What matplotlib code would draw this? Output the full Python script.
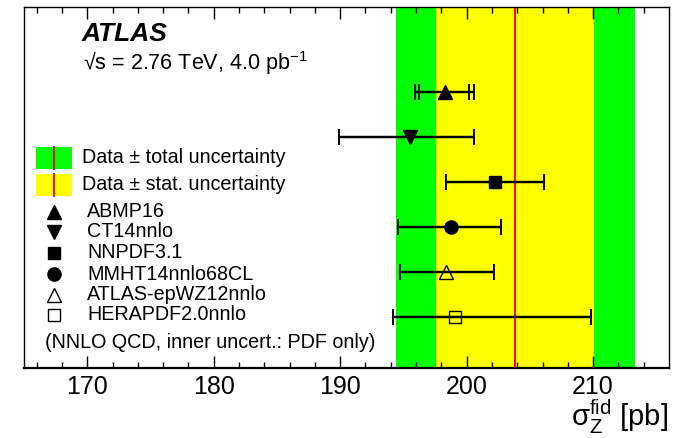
import matplotlib
matplotlib.use("Agg")
import matplotlib.pyplot as plt
from matplotlib.patches import Rectangle
from matplotlib.lines import Line2D

plt.rcParams['font.family'] = ['Liberation Sans', 'DejaVu Sans']
plt.rcParams['mathtext.fontset'] = 'custom'
plt.rcParams['mathtext.rm'] = 'Liberation Sans'
plt.rcParams['mathtext.it'] = 'Liberation Sans:italic'

# Data
data_value = 203.83
stat_unc = 6.27
total_unc = 9.45

pdf_sets = ["ABMP16", "CT14nnlo", "NNPDF3.1", "MMHT14nnlo68CL", "ATLAS-epWZ12nnlo", "HERAPDF2.0nnlo"]
pred_values = [198.25, 195.56, 202.22, 198.73, 198.33, 199.05]
tot_lo = [195.95, 189.87, 198.33, 194.58, 194.70, 194.18]
tot_hi = [200.58, 200.58, 206.14, 202.70, 202.17, 209.84]
pdf_lo = [196.27, 189.87, 198.33, 194.58, 194.70, 194.18]
pdf_hi = [200.21, 200.58, 206.14, 202.70, 202.17, 209.84]
markers = ["^", "v", "s", "o", "^", "s"]
filled = [True, True, True, True, False, False]
y_pos = [6, 5, 4, 3, 2, 1]

fig = plt.figure(figsize=(6.74, 4.38), dpi=100)
ax = fig.add_axes([24/674, 1-368/438, (669-24)/674, (368-7)/438])
ax.set_xlim(165, 216)
ax.set_ylim(-0.12, 7.88)

ax.axvspan(data_value - total_unc, data_value + total_unc, color='#00ff00', lw=0, zorder=0)
ax.axvspan(data_value - stat_unc, data_value + stat_unc, color='#ffff00', lw=0, zorder=1)
ax.axvline(data_value, color='#ff0000', lw=1.4, zorder=2)


def msize(m):
    if m in ('^', 'v'):
        return 10
    if m == 's':
        return 9
    return 9.5


for i in range(len(pdf_sets)):
    v = pred_values[i]
    y = y_pos[i]
    ax.errorbar([v], [y], xerr=[[v - tot_lo[i]], [tot_hi[i] - v]], fmt='none',
                ecolor='black', elinewidth=1.6, capsize=5.5, capthick=1.4, zorder=3)
    ax.errorbar([v], [y], xerr=[[v - pdf_lo[i]], [pdf_hi[i] - v]], fmt='none',
                ecolor='black', elinewidth=1.6, capsize=5.5, capthick=1.4, zorder=3)
    ms = msize(markers[i])
    if filled[i]:
        ax.plot([v], [y], marker=markers[i], color='black', ms=ms, ls='none', zorder=4)
    else:
        ax.plot([v], [y], marker=markers[i], mfc='none', mec='black', mew=1.0, ms=ms, ls='none', zorder=4)

# ticks
ax.set_xticks([170, 180, 190, 200, 210])
ax.set_xticks(range(166, 216, 2), minor=True)
ax.tick_params(axis='x', which='both', direction='in', top=True, bottom=True, labelsize=18, pad=5)
ax.tick_params(axis='x', which='major', length=8.5, width=1.0)
ax.tick_params(axis='x', which='minor', length=4.5, width=1.0)
ax.set_yticks([])
for s in ax.spines.values():
    s.set_linewidth(1.0)
ax.spines['bottom'].set_linewidth(1.6)

# axis label
fig.text(668/674, 1-417/438, r'$\mathrm{σ}_{\mathrm{Z}}^{\mathrm{fid}}$ [pb]', ha='right', va='center', fontsize=21)

# ATLAS text
T = ax.transAxes
fig.text(82/674, 1-34/438, 'ATLAS', fontsize=19, fontweight='bold', fontstyle='italic', ha='left', va='center')
fig.text(83/674, 1-63/438, '√s = 2.76 TeV, 4.0 pb$^{\\mathrm{-1}}$', fontsize=15.5, ha='left', va='center')


def px2ax(x, y):
    return ((x - 24) / (669 - 24), (368 - y) / (368 - 7))


for (ytop, ybot, col, label) in [(147, 169, '#00ff00', 'Data ± total uncertainty'),
                                  (174, 196, '#ffff00', 'Data ± stat. uncertainty')]:
    x0, y0 = px2ax(36, ybot)
    x1, y1 = px2ax(72, ytop)
    ax.add_patch(Rectangle((x0, y0), x1 - x0, y1 - y0, transform=T, color=col, lw=0, zorder=5, clip_on=False))
    xm, _ = px2ax(54, 0)
    ax.add_line(Line2D([xm, xm], [y0, y1], transform=T, color='#ff0000', lw=1.4, zorder=6))
    tx, ty = px2ax(82, (ytop + ybot) / 2)
    ax.text(tx, ty, label, transform=T, fontsize=14.2, ha='left', va='center')

leg_y = [212, 232, 253, 274, 295, 315]
for i in range(len(pdf_sets)):
    mx, my = px2ax(54, leg_y[i])
    ms = msize(markers[i])
    if filled[i]:
        ax.plot([mx], [my], marker=markers[i], color='black', ms=ms, transform=T, ls='none', clip_on=False)
    else:
        ax.plot([mx], [my], marker=markers[i], mfc='none', mec='black', mew=1.0, ms=ms, transform=T, ls='none', clip_on=False)
    tx, ty = px2ax(87, leg_y[i])
    ax.text(tx, ty, pdf_sets[i], transform=T, fontsize=14.2, ha='left', va='center')

tx, ty = px2ax(45, 343)
ax.text(tx, ty, '(NNLO QCD, inner uncert.: PDF only)', transform=T, fontsize=14.2, ha='left', va='center')

fig.savefig('out.png', dpi=100)
